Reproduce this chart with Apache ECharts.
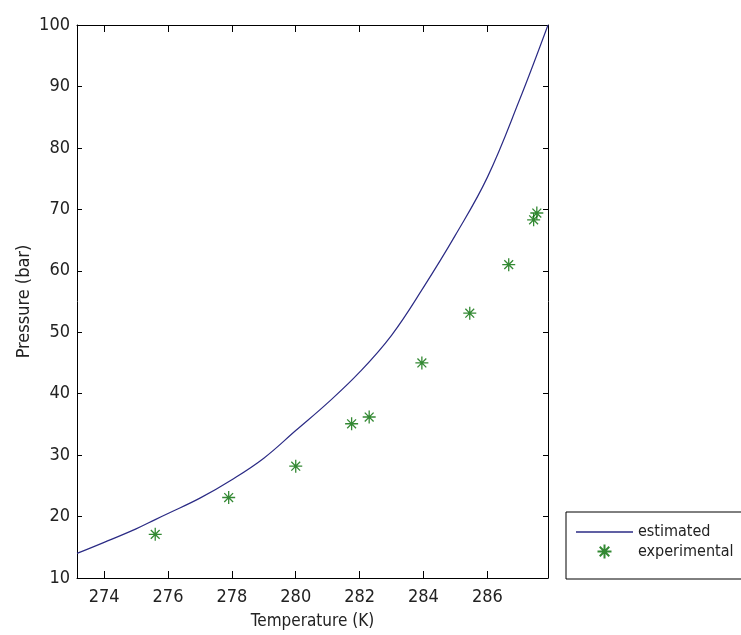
<!DOCTYPE html>
<html>
<head>
<meta charset="utf-8">
<script src="https://cdn.jsdelivr.net/npm/echarts@6/dist/echarts.min.js"></script>
<style>
  html, body { margin: 0; padding: 0; background: #fff; }
  #chart { width: 741px; height: 635px; }
</style>
</head>
<body>
<div id="chart"></div>
<script>
// estimated curve (temperature K, pressure bar)
const estTemp = [273.15, 274.0, 275.0, 275.6, 276.0, 277.0, 278.0, 279.0, 280.0, 281.0, 282.0, 283.0, 284.0, 285.0, 286.0, 287.0, 287.9]
const estPress = [14.0, 15.8, 18.0, 19.5, 20.5, 23.0, 26.0, 29.5, 34.0, 38.5, 43.5, 49.5, 57.3, 65.8, 75.2, 87.7, 100]
// experimental points
const expTemp = [275.6, 277.9, 280.0, 281.75, 282.3, 283.95, 285.45, 286.67, 287.45, 287.55]
const expPress = [17.1, 23.1, 28.2, 35.1, 36.2, 45.0, 53.1, 61.0, 68.3, 69.4]
const xTicks = [274, 276, 278, 280, 282, 284, 286]

const font = "'DejaVu Sans Condensed', 'Liberation Sans Narrow', 'Liberation Sans', Arial, sans-serif"
const textColor = '#222'
const lineColor = '#2b2b85'
// matlab style asterisk
const star = 'path://M5,0V10M0,5H10M1.6,1.6L8.4,8.4M8.4,1.6L1.6,8.4'
// thin line for the legend (moveTo points keep the box 57x14)
const legendLine = 'path://M0,0M0,6.2H57V7.8H0ZM57,14'

const chart = echarts.init(document.getElementById('chart'))

const xBase = {
  type: 'value',
  min: 273.15,
  max: 287.9,
  splitLine: { show: false },
  axisLine: { show: true, onZero: false, lineStyle: { color: '#000', width: 1 } },
  axisTick: { show: true, inside: true, length: 7, customValues: xTicks, lineStyle: { color: '#000' } }
}
const yBase = {
  type: 'value',
  min: 10,
  max: 100,
  interval: 10,
  splitLine: { show: false },
  axisLine: { show: true, onZero: false, lineStyle: { color: '#000', width: 1 } },
  axisTick: { show: true, inside: true, length: 5, lineStyle: { color: '#000' } }
}

chart.setOption({
  animation: false,
  backgroundColor: '#fff',
  grid: { left: 77, right: 193, top: 25, bottom: 57 },
  xAxis: [
    Object.assign({}, xBase, {
      position: 'bottom',
      name: 'Temperature (K)',
      nameLocation: 'middle',
      nameGap: 35,
      nameMoveOverlap: false,
      nameTextStyle: { fontFamily: font, fontSize: 17, color: textColor },
      axisLabel: { customValues: xTicks, margin: 10, fontFamily: font, fontSize: 18, color: textColor }
    }),
    Object.assign({}, xBase, { position: 'top', axisLabel: { show: false } })
  ],
  yAxis: [
    Object.assign({}, yBase, {
      position: 'left',
      name: 'Pressure (bar)',
      nameLocation: 'middle',
      nameGap: 44,
      nameMoveOverlap: false,
      nameTextStyle: { fontFamily: font, fontSize: 18, color: textColor },
      axisLabel: { margin: 7, fontFamily: font, fontSize: 18, color: textColor }
    }),
    Object.assign({}, yBase, { position: 'right', axisLabel: { show: false } })
  ],
  legend: {
    orient: 'vertical',
    left: 566,
    top: 512,
    width: 170,
    padding: [12, 30, 18, 10],
    itemGap: 2,
    itemWidth: 57,
    itemHeight: 14,
    borderColor: '#000',
    borderWidth: 1,
    backgroundColor: '#fff',
    textStyle: { fontFamily: font, fontSize: 16, color: textColor },
    data: [
      { name: 'estimated', icon: legendLine },
      { name: 'experimental' }
    ]
  },
  series: [
    {
      name: 'estimated',
      type: 'line',
      xAxisIndex: 0,
      yAxisIndex: 0,
      smooth: 0.4,
      showSymbol: false,
      symbol: 'none',
      lineStyle: { color: lineColor, width: 1.2 },
      itemStyle: { color: lineColor },
      data: estTemp.map((t, i) => [t, estPress[i]])
    },
    {
      name: 'experimental',
      type: 'scatter',
      xAxisIndex: 0,
      yAxisIndex: 0,
      symbol: star,
      symbolSize: 13,
      symbolKeepAspect: true,
      itemStyle: { color: 'none', borderColor: '#006b00', borderWidth: 1.3 },
      data: expTemp.map((t, i) => [t, expPress[i]])
    }
  ]
})
</script>
</body>
</html>
